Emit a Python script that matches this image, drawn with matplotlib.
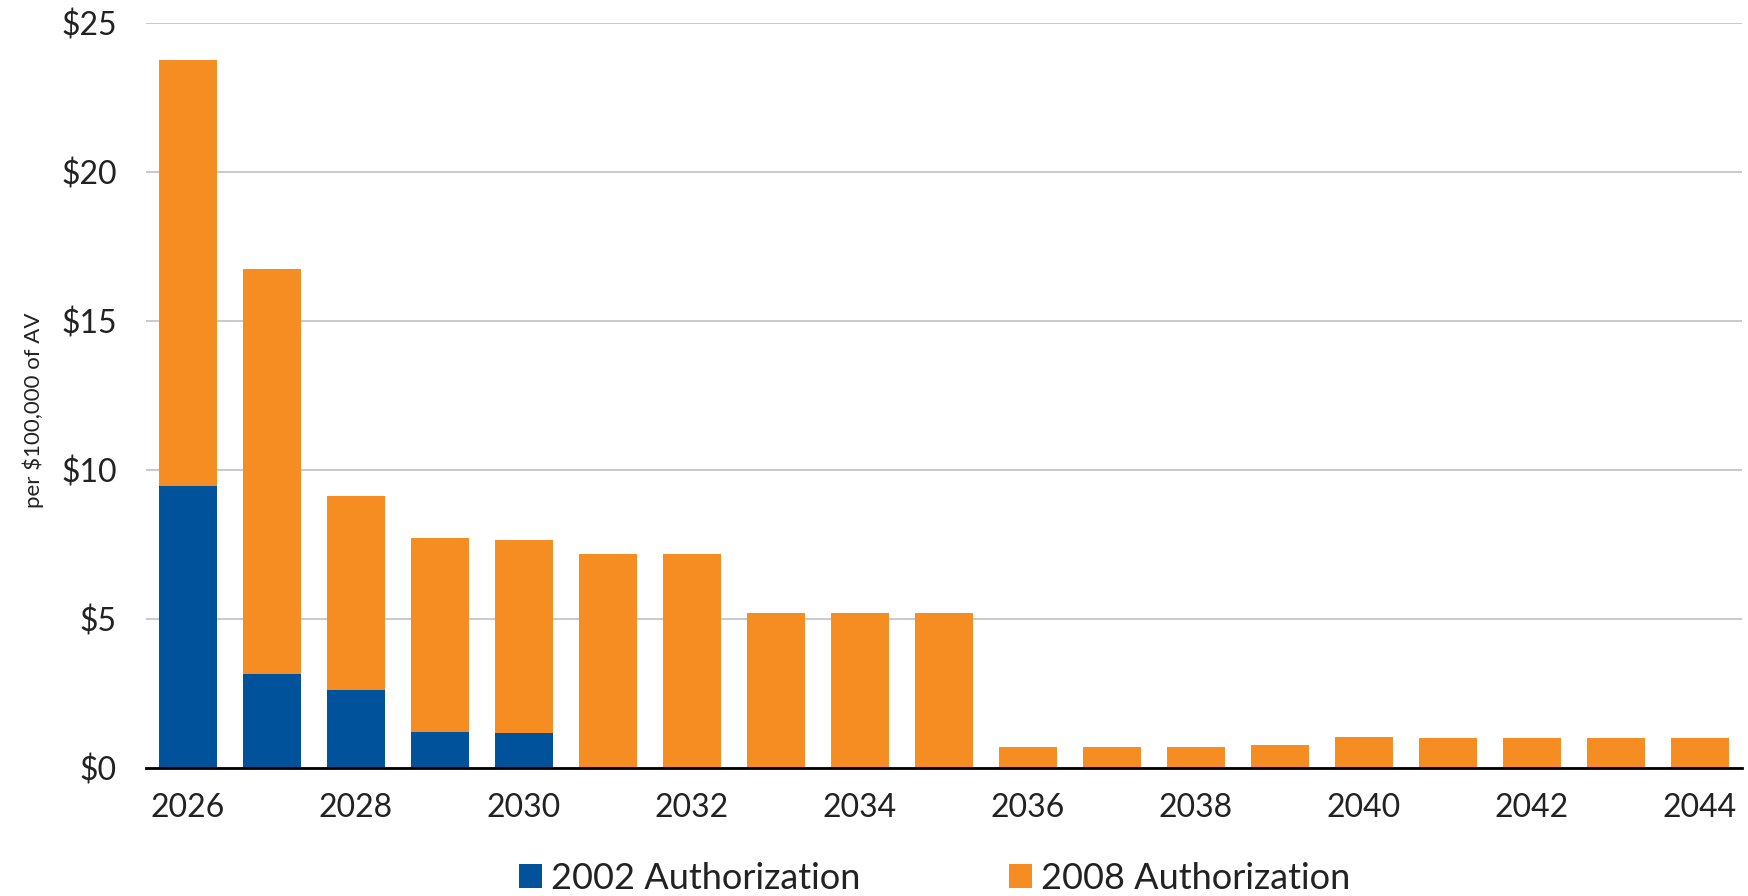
import matplotlib.pyplot as plt
import numpy as np

plt.rcParams['font.family'] = ['Lato', 'DejaVu Sans']

# data
years = [2026, 2027, 2028, 2029, 2030, 2031, 2032, 2033, 2034, 2035,
         2036, 2037, 2038, 2039, 2040, 2041, 2042, 2043, 2044]
auth2002 = [9.45, 3.15, 2.62, 1.20, 1.16, 0, 0, 0, 0, 0,
            0, 0, 0, 0, 0, 0, 0, 0, 0]
auth2008 = [14.31, 13.60, 6.49, 6.52, 6.49, 7.16, 7.16, 5.19, 5.21, 5.21,
            0.70, 0.70, 0.70, 0.75, 1.03, 1.00, 1.00, 1.00, 1.00]
yticks = [0, 5, 10, 15, 20, 25]

blue = '#00539b'
orange = '#f68d22'

fig = plt.figure(figsize=(17.49, 8.96), dpi=100)
ax = fig.add_axes([146/1749, 1-767.6/896, (1742-146)/1749, (767.6-23.4)/896])

x = np.arange(len(years))
ax.bar(x, auth2002, width=0.69, color=blue, label='2002 Authorization', zorder=3)
ax.bar(x, auth2008, width=0.69, bottom=auth2002, color=orange, label='2008 Authorization', zorder=3)

ax.set_xlim(-0.5, len(years) - 0.5)
ax.set_ylim(0, 25)
ax.set_yticks(yticks)
ax.set_yticklabels(['$' + str(v) for v in yticks])
ax.set_xticks(x[::2])
ax.set_xticklabels([str(y) for y in years[::2]])
ax.tick_params(axis='both', length=0, labelsize=23, colors='#222222')
ax.tick_params(axis='x', pad=18)
ax.tick_params(axis='y', pad=21)

ax.grid(axis='y', color='#c0c0c0', linewidth=1.2, zorder=0)
for s in ['top', 'right', 'left']:
    ax.spines[s].set_visible(False)
ax.spines['bottom'].set_color('black')
ax.spines['bottom'].set_linewidth(2)
ax.spines['bottom'].set_zorder(4)

ax.set_ylabel('per $100,000 of AV', fontsize=16, color='#222222')
ax.yaxis.set_label_coords(-102/1596, 0.48)

fig.legend(loc='center', bbox_to_anchor=(838*1.1154/1749, 1-878/896), ncol=2,
           frameon=False, fontsize=26, handlelength=0.65, handleheight=0.65,
           handletextpad=0.25, columnspacing=4.1, labelcolor='#222222')

fig.savefig('out.png', dpi=100)
